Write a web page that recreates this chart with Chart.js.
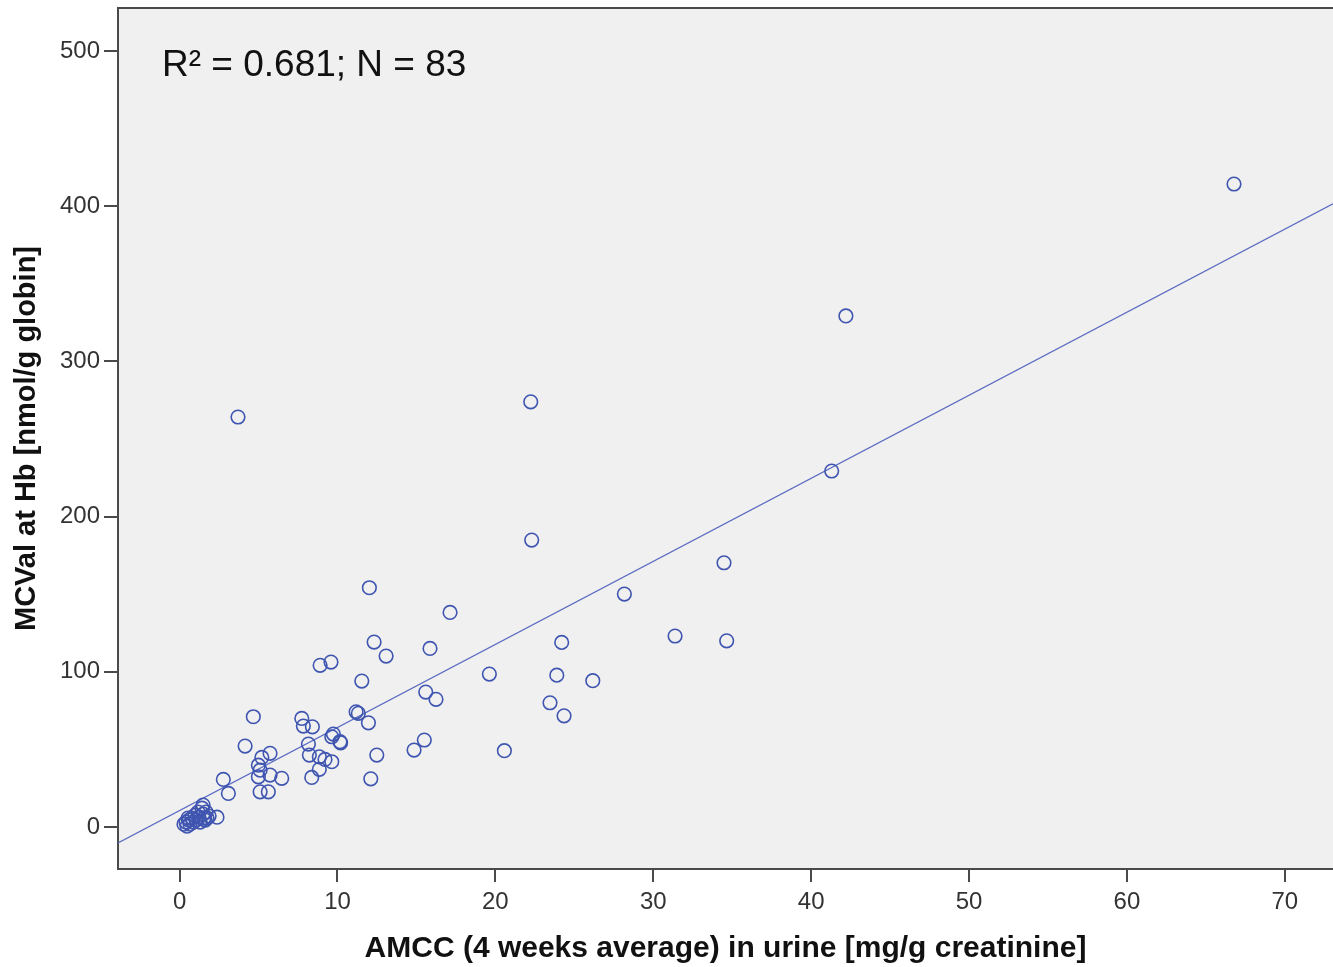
<!DOCTYPE html>
<html>
<head>
<meta charset="utf-8">
<script src="https://cdn.jsdelivr.net/npm/chart.js@4"></script>
<style>
html,body{margin:0;padding:0;background:#ffffff;}
#wrap{width:1333px;height:967px;position:relative;}
canvas{display:block;}
</style>
</head>
<body>
<div id="wrap"><canvas id="c" width="1333" height="967" style="width:1333px;height:967px"></canvas></div>
<script>
// ---- data ----
const amcc = [
  66.78, 42.2, 41.3, 3.7,
  22.24, 22.3, 34.48, 28.17, 31.38, 34.65, 24.2, 19.62, 23.89, 26.17, 23.46, 24.35, 20.57,
  12.02, 17.13, 12.32, 13.08, 15.86, 8.9, 9.59, 11.54, 15.59, 16.24, 11.18, 11.32, 11.96,
  7.74, 7.84, 8.41, 9.74, 9.64, 10.16, 10.2, 8.16, 8.22, 8.85, 9.21, 9.64, 8.85, 8.37,
  12.49, 15.5, 14.85, 12.11,
  4.67, 4.15, 5.73, 5.21, 4.99, 5.1, 5.73, 6.47, 4.99, 5.1, 5.62, 2.77, 3.09,
  0.28, 0.41, 0.47, 0.6, 0.66, 0.79, 0.85, 0.98, 1.04, 1.17, 1.23, 1.3, 1.42, 1.49,
  1.55, 1.68, 1.74, 1.87, 1.49, 1.62, 2.37, 0.54
];
const mcval = [
  414.3, 329.3, 229.4, 264.2,
  274.0, 184.9, 170.3, 150.1, 123.1, 120.0, 119.0, 98.6, 97.9, 94.3, 80.1, 71.7, 49.2,
  154.2, 138.3, 119.2, 110.2, 115.1, 104.2, 106.3, 94.1, 87.0, 82.3, 74.3, 73.3, 67.2,
  70.0, 65.1, 64.6, 59.9, 58.2, 55.0, 54.3, 53.5, 46.4, 45.3, 43.6, 42.1, 37.2, 32.0,
  46.4, 56.1, 49.6, 31.1,
  71.1, 52.2, 47.5, 44.9, 39.9, 36.7, 33.5, 31.4, 32.4, 22.7, 22.7, 30.7, 21.7,
  1.9, 3.2, 0.6, 4.5, 1.9, 5.8, 3.2, 7.7, 4.5, 9.7, 6.4, 3.2, 12.2, 8.4,
  5.8, 9.7, 5.8, 7.1, 14.2, 4.5, 6.4, 5.8
];
const fitIntercept = 10.7;
const fitSlope = 5.35;
const annotationText = "R\u00B2 = 0.681; N = 83";
const xTitle = "AMCC (4 weeks average) in urine [mg/g creatinine]";
const yTitle = "MCVal at Hb [nmol/g globin]";
const xRange = [-3.9, 73.05];
const yRange = [-27, 527.7];
const xStep = 10;
const yStep = 100;

// ---- build ----
const points = amcc.map((x, i) => ({x: x, y: mcval[i]}));
const fitLine = xRange.map(x => ({x: x, y: fitIntercept + fitSlope * x}));

const FONT = '"Liberation Sans", Arial, sans-serif';
const AXIS_COLOR = '#4a4a4a';
const MARK_COLOR = '#3f55b0';

const framePlugin = {
  id: 'frame',
  beforeDraw(chart) {
    const {ctx, chartArea: a} = chart;
    ctx.save();
    ctx.fillStyle = '#f0f0f0';
    ctx.fillRect(a.left, a.top, a.right - a.left, a.bottom - a.top);
    ctx.restore();
  },
  afterDraw(chart) {
    const {ctx, chartArea: a} = chart;
    ctx.save();
    ctx.strokeStyle = AXIS_COLOR;
    ctx.lineWidth = 2;
    ctx.beginPath();
    ctx.moveTo(a.left - 1, a.top);
    ctx.lineTo(a.right, a.top);
    ctx.stroke();
    ctx.fillStyle = '#111111';
    ctx.font = '37px ' + FONT;
    ctx.textBaseline = 'alphabetic';
    ctx.textAlign = 'left';
    ctx.fillText(annotationText, a.left + 44, a.top + 68);
    ctx.restore();
  }
};

function zeroPad(scale) {
  scale.paddingTop = 0; scale.paddingBottom = 0;
  scale.paddingLeft = 0; scale.paddingRight = 0;
}

new Chart(document.getElementById('c'), {
  type: 'scatter',
  data: {
    datasets: [
      {
        type: 'line',
        data: fitLine,
        borderColor: '#5a6bc2',
        borderWidth: 1.3,
        pointRadius: 0,
        fill: false,
        tension: 0,
        order: 2
      },
      {
        type: 'scatter',
        data: points,
        pointStyle: 'circle',
        pointRadius: 6.8,
        pointBorderWidth: 1.6,
        borderColor: MARK_COLOR,
        backgroundColor: 'rgba(0,0,0,0)',
        pointBackgroundColor: 'rgba(0,0,0,0)',
        pointBorderColor: MARK_COLOR,
        order: 1
      }
    ]
  },
  options: {
    responsive: false,
    animation: false,
    events: [],
    layout: {autoPadding: false, padding: {top: 8, right: 0, bottom: 0, left: 0}},
    plugins: {legend: {display: false}, tooltip: {enabled: false}},
    scales: {
      x: {
        type: 'linear',
        min: xRange[0],
        max: xRange[1],
        afterFit(scale) { scale.height = 98; zeroPad(scale); },
        grid: {display: true, drawOnChartArea: false, drawTicks: true, tickLength: 13, color: AXIS_COLOR, lineWidth: 2},
        border: {display: true, color: AXIS_COLOR, width: 2},
        ticks: {stepSize: xStep, includeBounds: false, color: '#333333', padding: 6, maxRotation: 0,
                font: {family: FONT, size: 24}},
        title: {display: true, text: xTitle, color: '#111111', padding: {top: 0, bottom: 0},
                font: {family: FONT, size: 30, weight: 'bold'}}
      },
      y: {
        type: 'linear',
        min: yRange[0],
        max: yRange[1],
        afterFit(scale) { scale.width = 118; zeroPad(scale); },
        grid: {display: true, drawOnChartArea: false, drawTicks: true, tickLength: 14, color: AXIS_COLOR, lineWidth: 2},
        border: {display: true, color: AXIS_COLOR, width: 2},
        ticks: {stepSize: yStep, includeBounds: false, color: '#333333', padding: 4,
                font: {family: FONT, size: 24}},
        title: {display: true, text: yTitle, color: '#111111', padding: {top: 10, bottom: 0},
                font: {family: FONT, size: 29, weight: 'bold'}}
      }
    }
  },
  plugins: [framePlugin]
});
</script>
</body>
</html>
